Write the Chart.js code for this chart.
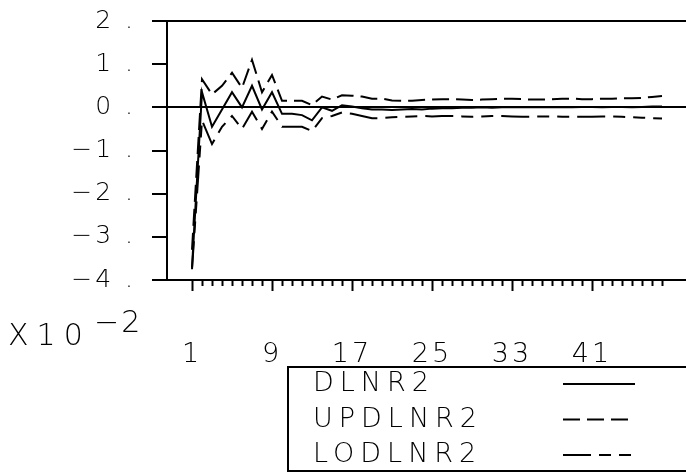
<!DOCTYPE html>
<html>
<head>
<meta charset="utf-8">
<title>DLNR2</title>
<script src="https://cdn.jsdelivr.net/npm/chart.js@4.4.0/dist/chart.umd.min.js"></script>
<style>
  html, body { margin: 0; padding: 0; background: #fff; }
  canvas { display: block; }
</style>
</head>
<body>
<canvas id="chart" width="686" height="474"></canvas>
<script>
// Observation index (x) and the three series plotted against it (units of 1e-2)
const steps = [
   1,  2,  3,  4,  5,  6,  7,  8,  9, 10, 11, 12, 13, 14, 15, 16,
  17, 18, 19, 20, 21, 22, 23, 24, 25, 26, 27, 28, 29, 30, 31, 32,
  33, 34, 35, 36, 37, 38, 39, 40, 41, 42, 43, 44, 45, 46, 47, 48
];
const dlnr2 = [
  -3.72, 0.35, -0.45, -0.05, 0.35, 0.00, 0.50, -0.05, 0.35, -0.15, -0.15, -0.18, -0.30, 0.00, -0.08, 0.05,
   0.02, -0.02, -0.05, -0.05, -0.06, -0.05, -0.04, -0.05, -0.03, -0.02, -0.02, -0.01, -0.01, 0.00, -0.01, 0.00,
   0.00, 0.01, 0.00, 0.00, 0.01, 0.00, 0.00, 0.01, 0.01, 0.00, 0.01, 0.01, 0.00, 0.01, 0.02, 0.02
];
const updlnr2 = [
  -3.30, 0.65, 0.30, 0.50, 0.80, 0.45, 1.10, 0.35, 0.75, 0.15, 0.15, 0.15, 0.05, 0.25, 0.18, 0.28,
   0.27, 0.25, 0.20, 0.20, 0.16, 0.15, 0.15, 0.17, 0.18, 0.19, 0.19, 0.18, 0.17, 0.18, 0.19, 0.20,
   0.20, 0.19, 0.18, 0.18, 0.19, 0.20, 0.20, 0.19, 0.19, 0.20, 0.20, 0.21, 0.21, 0.22, 0.24, 0.26
];
const lodlnr2 = [
  -3.75, -0.30, -0.85, -0.45, -0.20, -0.50, -0.10, -0.50, -0.10, -0.45, -0.45, -0.45, -0.55, -0.25, -0.20, -0.12,
  -0.15, -0.20, -0.25, -0.25, -0.23, -0.22, -0.21, -0.20, -0.21, -0.20, -0.20, -0.21, -0.22, -0.21, -0.20, -0.20,
  -0.21, -0.22, -0.22, -0.21, -0.21, -0.22, -0.22, -0.22, -0.22, -0.21, -0.21, -0.22, -0.23, -0.24, -0.25, -0.26
];
const seriesNames = ["DLNR2", "UPDLNR2", "LODLNR2"];
const xLabels = [1, 9, 17, 25, 33, 41];
const yTicks = [-4, -3, -2, -1, 0, 1, 2];
const yRuled = [0, 2];
const scaleBase = "X10";
const scaleExp = "-2";

// -----------------------------------------------------------------------

const ink = "#000";
const family = "'DejaVu Sans', 'Liberation Sans', sans-serif";
const thin = 200;

const toPoints = values => values.map((v, i) => ({ x: steps[i], y: v }));
const minus = s => String(s).replace("-", "\u2212");

const lineStyle = {
  borderColor: ink,
  borderWidth: 2,
  pointRadius: 0,
  tension: 0,
  fill: false,
};

// keep the plot frame where it is, labels hang outside it
const noLabelPadding = s => {
  s.paddingTop = 0;
  s.paddingBottom = 0;
  s.paddingLeft = 0;
  s.paddingRight = 0;
};

// plotter style lettering is spaced out, the canvas does that for us
const plotterText = {
  id: "plotterText",
  beforeLayout(chart) { chart.ctx.letterSpacing = "3px"; },
  beforeDraw(chart) { chart.ctx.letterSpacing = "3px"; },
  afterDraw(chart) {
    const ctx = chart.ctx;
    ctx.save();
    ctx.fillStyle = ink;
    ctx.strokeStyle = ink;
    ctx.lineWidth = 2;
    ctx.textAlign = "left";

    // exponent note under the y axis
    ctx.letterSpacing = "8px";
    ctx.textBaseline = "alphabetic";
    ctx.font = `${thin} 30px ${family}`;
    ctx.fillText(scaleBase, 8, 345);
    ctx.letterSpacing = "2px";
    ctx.fillText(minus(scaleExp), 94, 332);

    // legend box, open to the right
    const box = { left: 288, top: 367, bottom: 471 };
    ctx.beginPath();
    ctx.moveTo(chart.width + 4, box.top);
    ctx.lineTo(box.left, box.top);
    ctx.lineTo(box.left, box.bottom);
    ctx.lineTo(chart.width + 4, box.bottom);
    ctx.stroke();

    ctx.font = `${thin} 27px ${family}`;
    ctx.letterSpacing = "6px";
    ctx.textBaseline = "middle";
    chart.data.datasets.forEach((ds, i) => {
      const y = 384 + i * 35.5;
      ctx.fillText(ds.label, 313, y);
      ctx.setLineDash(ds.borderDash || []);
      ctx.beginPath();
      ctx.moveTo(563, y);
      ctx.lineTo(635, y);
      ctx.stroke();
    });
    ctx.restore();
  },
};

const chart = new Chart(document.getElementById("chart").getContext("2d"), {
  type: "line",
  data: {
    datasets: [
      { ...lineStyle, label: seriesNames[0], data: toPoints(dlnr2), borderDash: [] },
      { ...lineStyle, label: seriesNames[1], data: toPoints(updlnr2), borderDash: [17, 7] },
      { ...lineStyle, label: seriesNames[2], data: toPoints(lodlnr2), borderDash: [28, 8, 12, 8, 12, 8] },
    ],
  },
  options: {
    responsive: false,
    animation: false,
    devicePixelRatio: 1,
    layout: { padding: { top: 21, right: 0, bottom: 0, left: 0 } },
    plugins: {
      legend: { display: false },
      tooltip: { enabled: false },
    },
    scales: {
      x: {
        type: "linear",
        min: -1.5,
        max: 50.4,
        afterBuildTicks: s => { s.ticks = steps.map(v => ({ value: v })); },
        afterFit: s => { s.height = 474 - 280; noLabelPadding(s); },
        border: { color: ink, width: 2 },
        grid: {
          drawOnChartArea: false,
          tickLength: 11,
          tickWidth: 2,
          tickColor: ink,
          // long marks on labelled steps, short ones elsewhere
          tickBorderDash: c => xLabels.includes(c.tick.value) ? [] : [5, 30],
        },
        ticks: {
          autoSkip: false,
          maxRotation: 0,
          padding: 48,
          color: ink,
          font: { family, size: 27, weight: thin },
          callback: v => xLabels.includes(v) ? String(v) : "",
        },
      },
      y: {
        min: -4,
        max: 2,
        afterBuildTicks: s => { s.ticks = yTicks.map(v => ({ value: v })); },
        afterFit: s => { s.width = 167; noLabelPadding(s); },
        border: { color: ink, width: 2 },
        grid: {
          lineWidth: 2,
          color: c => yRuled.includes(c.tick.value) ? ink : "rgba(0,0,0,0)",
          tickLength: 15,
          tickWidth: 2,
          tickColor: ink,
        },
        ticks: {
          padding: 16,
          color: ink,
          font: { family, size: 25, weight: thin },
          callback: v => minus(v) + " .",
        },
      },
    },
  },
  plugins: [plotterText],
});
</script>
</body>
</html>
